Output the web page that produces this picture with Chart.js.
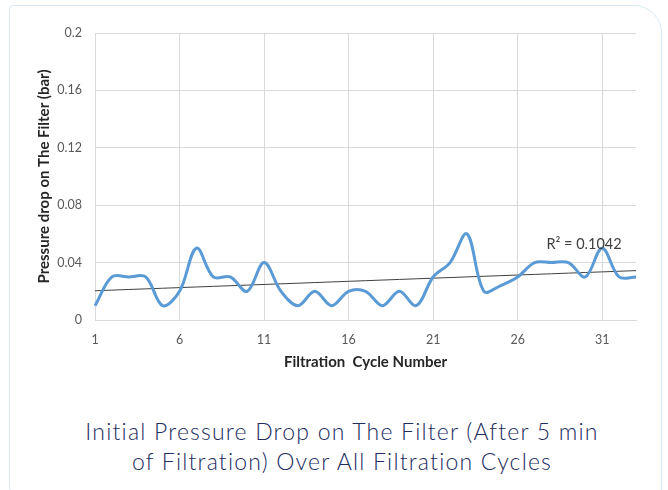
<!DOCTYPE html>
<html>
<head>
<meta charset="utf-8">
<script src="https://cdn.jsdelivr.net/npm/chart.js@4"></script>
<style>
html, body { margin:0; padding:0; background:#fff; width:668px; height:490px; overflow:hidden; }
#card { position:absolute; left:9px; top:5px; width:653px; height:510px; border:1.5px solid #d6e9f5; border-radius:4px 28px 0 30px; box-sizing:border-box; }
#wrap { position:absolute; left:0; top:0; width:668px; height:380px; }
#caption { position:absolute; left:8px; top:416px; width:668px; text-align:center; font-family:Lato, "Open Sans", sans-serif; font-weight:300; font-size:23px; letter-spacing:1.2px; line-height:30px; color:#222c60; }
</style>
</head>
<body>
<div id="card"></div>
<div id="wrap"><canvas id="myChart" width="668" height="380"></canvas></div>
<div id="caption">Initial Pressure Drop on The Filter (After 5 min<br>of Filtration) Over All Filtration Cycles</div>
<script>
// filtration cycle numbers (x categories)
var cycles = ['1','2','3','4','5','6','7','8','9','10','11','12','13','14','15','16','17',
              '18','19','20','21','22','23','24','25','26','27','28','29','30','31','32','33'];
// pressure drop (bar)
var pressureDrop = [0.01,0.03,0.03,0.03,0.01,0.02,0.05,0.03,0.03,0.02,0.04,0.02,0.01,0.02,0.01,0.02,0.02,
                    0.01,0.02,0.01,0.03,0.04,0.06,0.02,0.024,0.03,0.04,0.04,0.04,0.03,0.05,0.03,0.03];
var yTicks = [0, 0.04, 0.08, 0.12, 0.16, 0.2];
var tickEvery = 5;
var r2Text = 'R\u00b2 = 0.1042';
var r2At = [27.7, 0.053]; // cycle, value

// linear trendline (least squares) from the data
function trend(ys){
  var n = ys.length, sx = 0, sy = 0, sxy = 0, sxx = 0;
  for (var i = 0; i < n; i++){ var x = i + 1; sx += x; sy += ys[i]; sxy += x*ys[i]; sxx += x*x; }
  var b = (n*sxy - sx*sy) / (n*sxx - sx*sx);
  var a = (sy - b*sx) / n;
  var out = [];
  for (var j = 0; j < n; j++) out.push(a + b*(j+1));
  return out;
}

var r2Plugin = {
  id: 'r2label',
  afterDatasetsDraw: function(chart){
    var ctx = chart.ctx;
    var px = chart.scales.x.getPixelForValue(r2At[0] - 1);
    var py = chart.scales.y.getPixelForValue(r2At[1]);
    ctx.save();
    ctx.font = '14.5px Lato, sans-serif';
    ctx.fillStyle = '#404040';
    ctx.textBaseline = 'middle';
    ctx.textAlign = 'left';
    ctx.fillText(r2Text, px, py);
    ctx.restore();
  }
};

var myChart;
window.onload = function(){
  var ctx = document.getElementById('myChart');
  myChart = new Chart(ctx, {
    type: 'line',
    data: {
      labels: cycles,
      datasets: [{
        label: 'Pressure drop',
        data: pressureDrop,
        borderColor: '#5b9bd5',
        borderWidth: 3,
        pointRadius: 0,
        tension: 0.35,
        fill: false
      }, {
        label: 'Linear',
        data: trend(pressureDrop),
        borderColor: '#404040',
        borderWidth: 1,
        pointRadius: 0,
        tension: 0,
        fill: false
      }]
    },
    options: {
      responsive: false,
      animation: false,
      layout: { padding: { top: 33, right: 32, left: 0, bottom: 0 } },
      plugins: { legend: { display: false }, tooltip: { enabled: false } },
      scales: {
        x: {
          offset: false,
          afterFit: function(s){ s.height = 60; },
          grid: {
            drawTicks: false,
            color: function(c){ return c.index % tickEvery === 0 ? '#d9d9d9' : 'rgba(0,0,0,0)'; }
          },
          border: { color: '#d9d9d9' },
          ticks: {
            autoSkip: false, maxRotation: 0, padding: 12,
            color: '#595959', font: { family: 'Lato', size: 12.5 },
            callback: function(v, i){ return i % tickEvery === 0 ? cycles[i] : ''; }
          },
          title: {
            display: true, text: 'Filtration  Cycle Number', color: '#262626',
            font: { family: 'Lato', size: 15, weight: 'bold' }, padding: { top: 0, bottom: 9 }
          }
        },
        y: {
          min: 0, max: 0.2,
          afterFit: function(s){ s.width = 95; },
          afterBuildTicks: function(s){ s.ticks = yTicks.map(function(v){ return { value: v }; }); },
          grid: { drawTicks: false, color: '#d9d9d9' },
          border: { color: '#d9d9d9' },
          ticks: {
            padding: 13, color: '#595959', font: { family: 'Lato', size: 12.5 },
            callback: function(v){ return v === 0 ? '0' : String(+v.toFixed(2)); }
          },
          title: {
            display: true, text: 'Pressure drop on The Filter (bar)', color: '#262626',
            font: { family: 'Lato', size: 15, weight: 'bold' }, padding: { top: 35, bottom: 0 }
          }
        }
      }
    },
    plugins: [r2Plugin]
  });
};
</script>
</body>
</html>
